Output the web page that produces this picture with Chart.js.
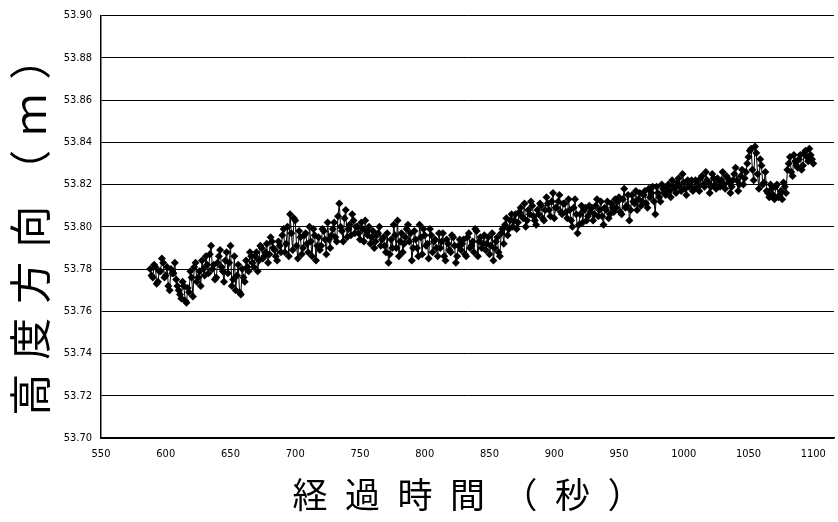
<!DOCTYPE html>
<html>
<head>
<meta charset="utf-8">
<script src="https://cdn.jsdelivr.net/npm/chart.js@4/dist/chart.umd.min.js"></script>
<style>
  html, body { margin: 0; padding: 0; background: #fff; }
  #wrap { width: 838px; height: 522px; }
</style>
</head>
<body>
<div id="wrap"><canvas id="c"></canvas></div>
<script>
// One reading per second from 588 s to 1100 s, stored as even-second and odd-second readings
const firstEvenSecond = 588;   // evenReadings[i] is at 588 + 2i
const firstOddSecond = 589;    // oddReadings[i]  is at 589 + 2i

// Vertical position readings (m) at even seconds
const evenReadings = [
  53.780, 53.776, 53.781, 53.774, 53.779, 53.783, 53.777, 53.772, 53.780, 53.778,
  53.775, 53.770, 53.766, 53.772, 53.764, 53.769, 53.776, 53.781, 53.774, 53.779,
  53.784, 53.777, 53.782, 53.787, 53.780, 53.775, 53.783, 53.789, 53.779, 53.784,
  53.778, 53.791, 53.775, 53.770, 53.782, 53.768, 53.776, 53.784, 53.779, 53.786,
  53.781, 53.788, 53.784, 53.790, 53.786, 53.792, 53.787, 53.793, 53.789, 53.784,
  53.791, 53.796, 53.788, 53.800, 53.806, 53.789, 53.803, 53.785, 53.795, 53.790,
  53.797, 53.788, 53.793, 53.799, 53.784, 53.795, 53.791, 53.798, 53.787, 53.794,
  53.796, 53.802, 53.793, 53.811, 53.798, 53.804, 53.795, 53.801, 53.806, 53.797,
  53.800, 53.794, 53.799, 53.803, 53.796, 53.792, 53.798, 53.793, 53.797, 53.791,
  53.795, 53.788, 53.783, 53.794, 53.801, 53.790, 53.786, 53.797, 53.792, 53.799,
  53.793, 53.784, 53.798, 53.790, 53.801, 53.787, 53.796, 53.792, 53.799, 53.788,
  53.794, 53.786, 53.790, 53.797, 53.784, 53.792, 53.788, 53.795, 53.783, 53.791,
  53.789, 53.794, 53.786, 53.797, 53.791, 53.788, 53.798, 53.793, 53.790, 53.796,
  53.792, 53.787, 53.797, 53.790, 53.795, 53.786, 53.799, 53.801, 53.796, 53.803,
  53.800, 53.806, 53.802, 53.809, 53.804, 53.800, 53.808, 53.812, 53.805, 53.801,
  53.806, 53.810, 53.803, 53.814, 53.808, 53.812, 53.804, 53.809, 53.815, 53.806,
  53.811, 53.804, 53.808, 53.800, 53.813, 53.797, 53.806, 53.802, 53.809, 53.805,
  53.807, 53.803, 53.810, 53.805, 53.812, 53.801, 53.808, 53.804, 53.811, 53.807,
  53.809, 53.814, 53.806, 53.818, 53.810, 53.803, 53.815, 53.811, 53.808, 53.816,
  53.812, 53.817, 53.809, 53.814, 53.819, 53.806, 53.816, 53.812, 53.818, 53.815,
  53.820, 53.814, 53.819, 53.816, 53.823, 53.817, 53.821, 53.815, 53.819, 53.822,
  53.818, 53.821, 53.817, 53.824, 53.819, 53.822, 53.816, 53.825, 53.820, 53.823,
  53.819, 53.826, 53.818, 53.823, 53.816, 53.822, 53.828, 53.817, 53.824, 53.820,
  53.826, 53.833, 53.837, 53.822, 53.835, 53.818, 53.829, 53.821, 53.817, 53.814,
  53.818, 53.813, 53.820, 53.815, 53.813, 53.819, 53.827, 53.833, 53.824, 53.831,
  53.828, 53.834, 53.829, 53.836, 53.831, 53.834, 53.830
];

// Vertical position readings (m) at odd seconds
const oddReadings = [
  53.777, 53.782, 53.773, 53.779, 53.785, 53.776, 53.781, 53.770, 53.778, 53.783,
  53.772, 53.768, 53.774, 53.765, 53.771, 53.779, 53.767, 53.783, 53.776, 53.772,
  53.780, 53.786, 53.778, 53.791, 53.782, 53.776, 53.786, 53.781, 53.774, 53.788,
  53.783, 53.772, 53.786, 53.777, 53.769, 53.780, 53.774, 53.781, 53.788, 53.783,
  53.786, 53.779, 53.791, 53.785, 53.788, 53.783, 53.795, 53.790, 53.786, 53.793,
  53.788, 53.799, 53.792, 53.786, 53.797, 53.804, 53.791, 53.798, 53.787, 53.796,
  53.792, 53.800, 53.786, 53.796, 53.791, 53.789, 53.799, 53.794, 53.802, 53.790,
  53.799, 53.795, 53.805, 53.800, 53.793, 53.808, 53.799, 53.796, 53.803, 53.800,
  53.797, 53.802, 53.793, 53.798, 53.800, 53.795, 53.790, 53.796, 53.800, 53.794,
  53.791, 53.797, 53.787, 53.790, 53.796, 53.803, 53.793, 53.788, 53.795, 53.801,
  53.797, 53.790, 53.794, 53.786, 53.795, 53.799, 53.791, 53.785, 53.796, 53.793,
  53.790, 53.797, 53.793, 53.786, 53.794, 53.789, 53.796, 53.791, 53.786, 53.794,
  53.792, 53.787, 53.795, 53.790, 53.793, 53.799, 53.786, 53.795, 53.792, 53.789,
  53.795, 53.791, 53.784, 53.793, 53.788, 53.797, 53.792, 53.804, 53.799, 53.806,
  53.803, 53.799, 53.807, 53.805, 53.811, 53.803, 53.806, 53.810, 53.803, 53.808,
  53.811, 53.804, 53.808, 53.811, 53.805, 53.816, 53.809, 53.812, 53.807, 53.811,
  53.807, 53.813, 53.803, 53.809, 53.806, 53.801, 53.810, 53.808, 53.803, 53.810,
  53.809, 53.806, 53.813, 53.808, 53.805, 53.809, 53.812, 53.806, 53.809, 53.813,
  53.812, 53.807, 53.813, 53.809, 53.815, 53.808, 53.812, 53.817, 53.813, 53.810,
  53.815, 53.811, 53.818, 53.816, 53.812, 53.819, 53.814, 53.820, 53.816, 53.819,
  53.817, 53.822, 53.818, 53.821, 53.819, 53.825, 53.818, 53.822, 53.820, 53.817,
  53.822, 53.819, 53.823, 53.820, 53.826, 53.821, 53.819, 53.823, 53.818, 53.822,
  53.822, 53.820, 53.824, 53.821, 53.819, 53.825, 53.822, 53.820, 53.827, 53.823,
  53.830, 53.836, 53.827, 53.838, 53.825, 53.832, 53.820, 53.826, 53.816, 53.820,
  53.815, 53.819, 53.814, 53.817, 53.821, 53.816, 53.830, 53.826, 53.834, 53.829,
  53.832, 53.827, 53.835, 53.833, 53.837, 53.832
];

// Axis tick values
const xTicks = [550, 600, 650, 700, 750, 800, 850, 900, 950, 1000, 1050, 1100];
const yTicks = [53.70, 53.72, 53.74, 53.76, 53.78, 53.80, 53.82, 53.84, 53.86, 53.88, 53.90];

const xTitle = '経\u2002過\u2002時\u2002間\u2002（\u2002秒\u2002）';
const yTitle = '高\u2004度\u2004方\u2004向\u2004（\u2004ｍ\u2004）';

// Merge both reading sets into one time-ordered series
const points = [];
evenReadings.forEach((v, i) => {
  points.push({ x: firstEvenSecond + 2 * i, y: v });
  if (i < oddReadings.length) points.push({ x: firstOddSecond + 2 * i, y: oddReadings[i] });
});

const tickFont = { family: '"DejaVu Sans Condensed", "DejaVu Sans", sans-serif', size: 11 };

new Chart(document.getElementById('c'), {
  type: 'line',
  data: {
    datasets: [{
      data: points,
      borderColor: '#000',
      borderWidth: 1,
      backgroundColor: '#000',
      pointStyle: 'rectRot',
      pointRadius: 4,
      pointBorderWidth: 0,
      pointBackgroundColor: '#000',
      tension: 0
    }]
  },
  options: {
    responsive: true,
    maintainAspectRatio: false,
    animation: false,
    events: [],
    layout: { padding: { top: 15, right: 0, bottom: 0, left: 0 } },
    plugins: { legend: { display: false }, tooltip: { enabled: false } },
    scales: {
      x: {
        type: 'linear',
        min: 550,
        max: 1116,
        afterBuildTicks: s => { s.ticks = xTicks.map(v => ({ value: v })); },
        afterFit: s => { s.height = 84; },
        grid: { display: false, drawTicks: false },
        border: { display: true, color: '#000', width: 1.5 },
        ticks: {
          color: '#000',
          font: tickFont,
          padding: 10,
          maxRotation: 0,
          autoSkip: false,
          callback: v => String(v)
        },
        title: {
          display: true,
          text: xTitle,
          color: '#000',
          font: { family: '"Noto Sans CJK JP", sans-serif', size: 35, lineHeight: 1 },
          padding: { top: 0, bottom: 10 }
        }
      },
      y: {
        type: 'linear',
        min: 53.70,
        max: 53.90,
        afterBuildTicks: s => { s.ticks = yTicks.map(v => ({ value: v })); },
        afterFit: s => { s.width = 101; },
        grid: { color: '#000', lineWidth: 1, drawTicks: false },
        border: { display: true, color: '#000', width: 1.5 },
        ticks: {
          color: '#000',
          font: tickFont,
          padding: 9,
          autoSkip: false,
          callback: v => Number(v).toFixed(2)
        },
        title: {
          display: true,
          text: yTitle,
          color: '#000',
          font: { family: '"Noto Sans CJK JP", sans-serif', size: 42, lineHeight: 1 },
          padding: { top: 9, bottom: 0 }
        }
      }
    }
  }
});
</script>
</body>
</html>
